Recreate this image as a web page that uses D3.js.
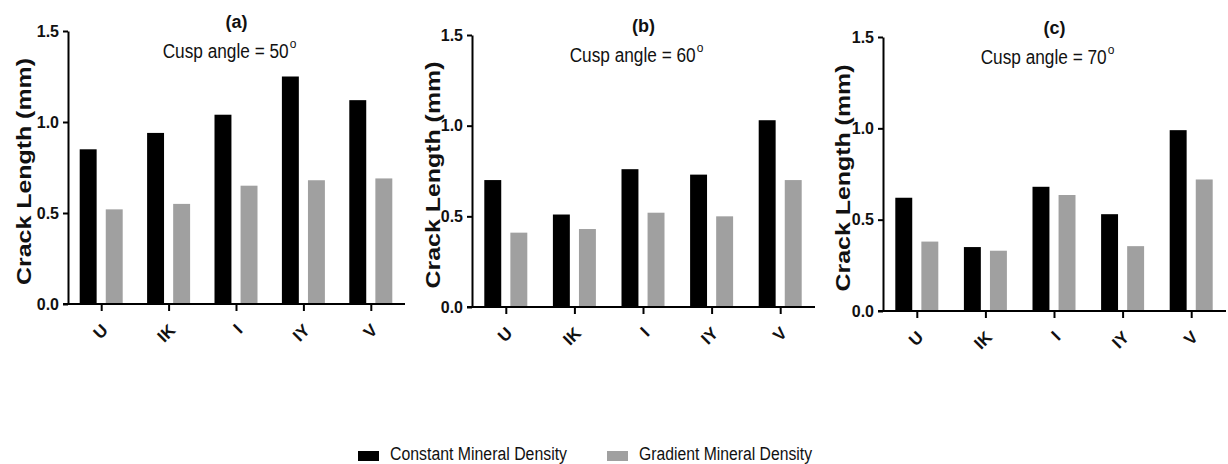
<!DOCTYPE html>
<html>
<head>
<meta charset="utf-8">
<script src="https://cdn.jsdelivr.net/npm/d3@7"></script>
<style>
  body { margin: 0; background: #fff; }
  text { font-family: 'Liberation Sans', Arial, sans-serif; }
</style>
</head>
<body>
<div id="chart"></div>
<script>
(function() {
  // data
  let categories = ['U', 'IK', 'I', 'IY', 'V']
  let panelLabels = ['(a)', '(b)', '(c)']
  let cuspAngles = [50, 60, 70]
  let yTicks = [0, 0.5, 1.0, 1.5]
  let seriesNames = ['Constant Mineral Density', 'Gradient Mineral Density']

  let constantA = [0.85, 0.94, 1.04, 1.25, 1.12]
  let gradientA = [0.52, 0.55, 0.65, 0.68, 0.69]
  let constantB = [0.70, 0.51, 0.76, 0.73, 1.03]
  let gradientB = [0.41, 0.43, 0.52, 0.50, 0.70]
  let constantC = [0.62, 0.35, 0.68, 0.53, 0.99]
  let gradientC = [0.38, 0.33, 0.635, 0.355, 0.72]

  let constantSeries = [constantA, constantB, constantC]
  let gradientSeries = [gradientA, gradientB, gradientC]

  let colors = ['#000000', '#a0a0a0']

  let width = 1228
  let height = 464

  // plot areas for the three panels
  let panels = [
    { left: 68, right: 405, top: 31, bottom: 304, labelX: 24 },
    { left: 472, right: 815, top: 35, bottom: 307, labelX: 433 },
    { left: 883, right: 1226, top: 37, bottom: 311, labelX: 843 }
  ]

  let svg = d3
    .select('#chart')
    .append('svg')
    .attr('width', width)
    .attr('height', height)

  panels.forEach(function(p, i) {
    let g = svg.append('g')

    let xPositionScale = d3.scaleBand()
      .domain(categories)
      .range([p.left, p.right])

    let innerScale = d3.scaleBand()
      .domain([0, 1])
      .range([0, 43])
      .paddingInner(0.35)

    let yPositionScale = d3.scaleLinear()
      .domain([0, 1.5])
      .range([p.bottom, p.top])

    let rows = categories.map(function(c, j) {
      return { cat: c, values: [constantSeries[i][j], gradientSeries[i][j]] }
    })

    g.selectAll('.group')
      .data(rows)
      .enter()
      .append('g')
      .attr('class', 'group')
      .attr('transform', d => 'translate(' + (xPositionScale(d.cat) + xPositionScale.bandwidth() / 2 - 22) + ',0)')
      .selectAll('rect')
      .data(d => d.values)
      .enter()
      .append('rect')
      .attr('x', (d, k) => innerScale(k))
      .attr('width', innerScale.bandwidth())
      .attr('y', d => yPositionScale(d))
      .attr('height', d => p.bottom - yPositionScale(d))
      .attr('fill', (d, k) => colors[k])

    let yAxis = d3.axisLeft(yPositionScale)
      .tickValues(yTicks)
      .tickFormat(d3.format('.1f'))
      .tickSize(5)
      .tickSizeOuter(0)
    let yg = g.append('g')
      .attr('class', 'axis y-axis')
      .attr('transform', 'translate(' + p.left + ',0)')
      .call(yAxis)
    yg.attr('font-size', null).attr('font-family', null)
    yg.selectAll('text')
      .attr('x', -9)
      .style('font-size', '16px')
      .style('font-weight', 'bold')
      .attr('fill', '#111')

    let xAxis = d3.axisBottom(xPositionScale)
      .tickSize(7)
      .tickSizeOuter(0)
    let xg = g.append('g')
      .attr('class', 'axis x-axis')
      .attr('transform', 'translate(0,' + p.bottom + ')')
      .call(xAxis)
    xg.attr('font-size', null).attr('font-family', null)
    xg.select('.domain').attr('d', 'M' + (p.left - 5) + ',0H' + p.right)
    xg.selectAll('text')
      .attr('x', 0)
      .attr('y', 0)
      .attr('dy', '0.35em')
      .attr('transform', 'translate(3,23) rotate(-45)')
      .style('text-anchor', 'end')
      .style('font-size', '17px')
      .style('font-weight', 'bold')
      .attr('fill', '#111')

    svg.selectAll('.axis path, .axis line')
      .attr('stroke', '#000')
      .attr('stroke-width', 2)

    // y axis title
    g.append('text')
      .attr('transform', 'translate(' + (p.labelX + 7) + ',' + ((p.top + p.bottom) / 2 + 4) + ') rotate(-90)')
      .attr('text-anchor', 'middle')
      .attr('textLength', 227)
      .attr('lengthAdjust', 'spacingAndGlyphs')
      .style('font-size', '21px')
      .style('font-weight', 'bold')
      .attr('fill', '#111')
      .text('Crack Length (mm)')

    let cx = (p.left + p.right) / 2

    // panel letter
    g.append('text')
      .attr('x', cx)
      .attr('y', p.top - 3)
      .attr('text-anchor', 'middle')
      .style('font-size', '18px')
      .style('font-weight', 'bold')
      .attr('fill', '#111')
      .text(panelLabels[i])

    // subtitle
    let sub = g.append('text')
      .attr('x', cx - 7)
      .attr('y', p.top + 27)
      .attr('text-anchor', 'middle')
      .style('font-size', '20px')
      .attr('fill', '#111')
    sub.append('tspan')
      .attr('textLength', 126)
      .attr('lengthAdjust', 'spacingAndGlyphs')
      .text('Cusp angle = ' + cuspAngles[i])
    sub.append('tspan')
      .attr('dx', 1)
      .attr('dy', -10)
      .style('font-size', '12px')
      .text('o')
  })

  // legend
  let legendX = [358, 607]
  let legend = svg.selectAll('.legend')
    .data(seriesNames)
    .enter()
    .append('g')
    .attr('class', 'legend')
    .attr('transform', (d, i) => 'translate(' + legendX[i] + ',451)')
  legend.append('rect')
    .attr('width', 21)
    .attr('height', 10)
    .attr('fill', (d, i) => colors[i])
  legend.append('text')
    .attr('x', 32)
    .attr('y', 9)
    .attr('textLength', (d, i) => i === 0 ? 177 : 173)
    .attr('lengthAdjust', 'spacingAndGlyphs')
    .style('font-size', '18px')
    .attr('fill', '#111')
    .text(d => d)
})()
</script>
</body>
</html>
